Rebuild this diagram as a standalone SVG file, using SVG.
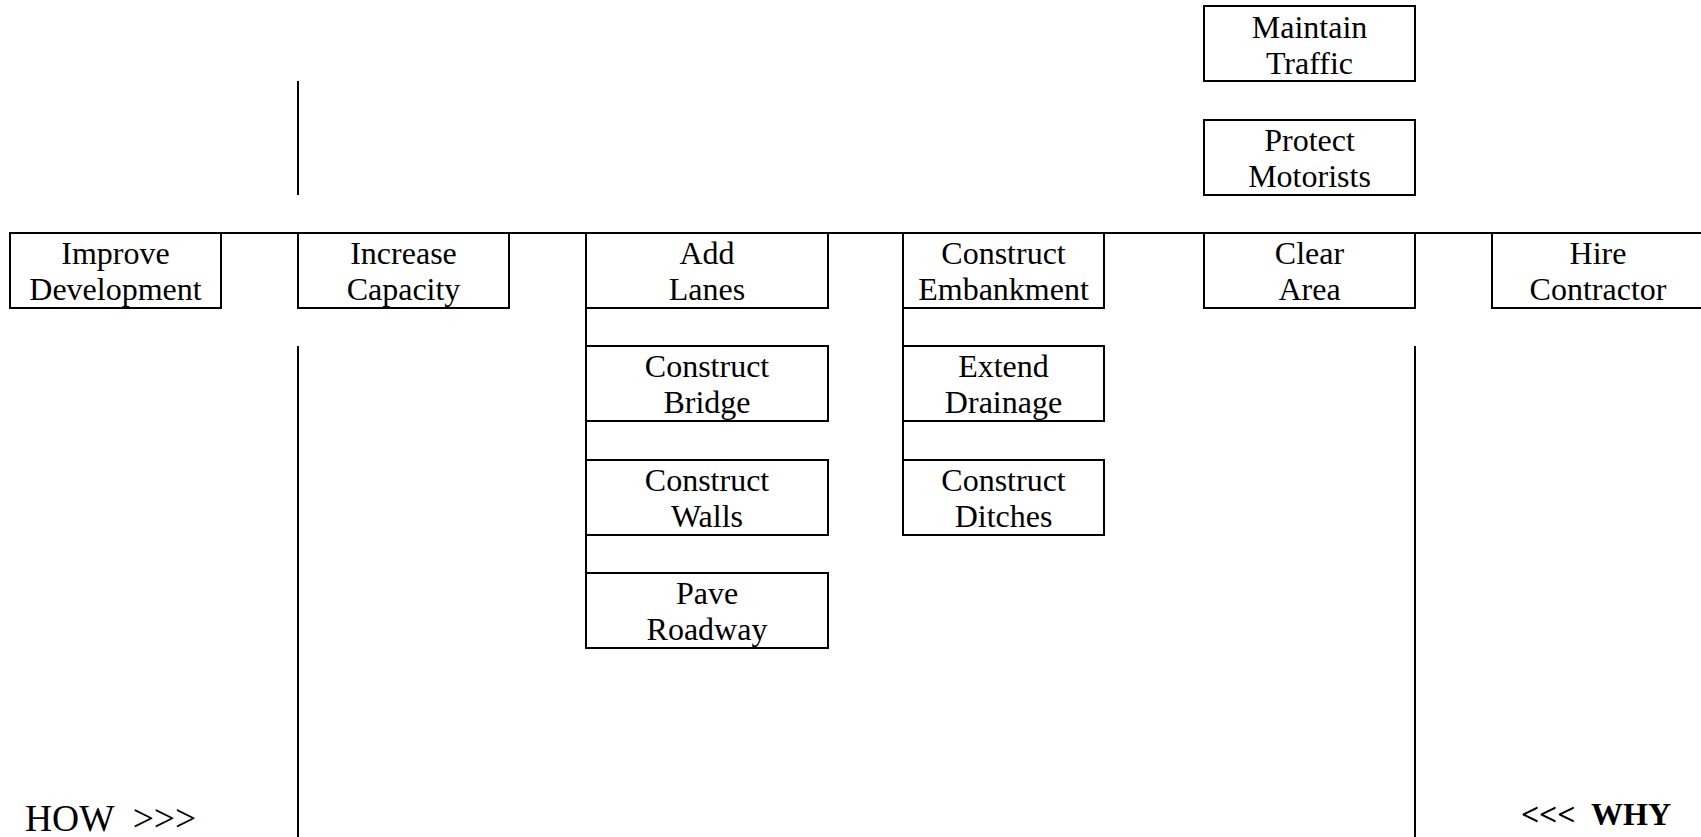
<svg xmlns="http://www.w3.org/2000/svg" width="1701" height="837" viewBox="0 0 1701 837">
<style>
.box{fill:#fff;stroke:#000;stroke-width:2}
.ln{stroke:#000;stroke-width:2;fill:none}
.t{font-family:"Liberation Serif","Times New Roman",serif;font-size:32px;fill:#000;text-anchor:middle}
.lbl{font-family:"Liberation Serif","Times New Roman",serif;fill:#000}
</style>
<rect width="1701" height="837" fill="#fff"/>
<g id="connectors">
<line class="ln" x1="10" y1="233" x2="1701" y2="233"/>
<line class="ln" x1="298" y1="81" x2="298" y2="195"/>
<line class="ln" x1="298" y1="346" x2="298" y2="837"/>
<line class="ln" x1="1415" y1="346" x2="1415" y2="837"/>
<line class="ln" x1="586" y1="308" x2="586" y2="573"/>
<line class="ln" x1="903" y1="308" x2="903" y2="460"/>
</g>
<g id="maintain-traffic"><rect class="box" x="1204" y="6" width="211" height="75"/><text class="t" x="1309.5" y="38">Maintain</text><text class="t" x="1309.5" y="74">Traffic</text></g>
<g id="protect-motorists"><rect class="box" x="1204" y="120" width="211" height="75"/><text class="t" x="1309.5" y="151">Protect</text><text class="t" x="1309.5" y="187">Motorists</text></g>
<g id="improve-development"><rect class="box" x="10" y="233" width="211" height="75"/><text class="t" x="115.5" y="264">Improve</text><text class="t" x="115.5" y="300">Development</text></g>
<g id="increase-capacity"><rect class="box" x="298" y="233" width="211" height="75"/><text class="t" x="403.5" y="264">Increase</text><text class="t" x="403.5" y="300">Capacity</text></g>
<g id="add-lanes"><rect class="box" x="586" y="233" width="242" height="75"/><text class="t" x="707" y="264">Add</text><text class="t" x="707" y="300">Lanes</text></g>
<g id="construct-embankment"><rect class="box" x="903" y="233" width="201" height="75"/><text class="t" x="1003.5" y="264">Construct</text><text class="t" x="1003.5" y="300">Embankment</text></g>
<g id="clear-area"><rect class="box" x="1204" y="233" width="211" height="75"/><text class="t" x="1309.5" y="264">Clear</text><text class="t" x="1309.5" y="300">Area</text></g>
<g id="hire-contractor"><rect class="box" x="1492" y="233" width="212" height="75"/><text class="t" x="1598" y="264">Hire</text><text class="t" x="1598" y="300">Contractor</text></g>
<g id="construct-bridge"><rect class="box" x="586" y="346" width="242" height="75"/><text class="t" x="707" y="377">Construct</text><text class="t" x="707" y="413">Bridge</text></g>
<g id="construct-walls"><rect class="box" x="586" y="460" width="242" height="75"/><text class="t" x="707" y="491">Construct</text><text class="t" x="707" y="527">Walls</text></g>
<g id="pave-roadway"><rect class="box" x="586" y="573" width="242" height="75"/><text class="t" x="707" y="604">Pave</text><text class="t" x="707" y="640">Roadway</text></g>
<g id="extend-drainage"><rect class="box" x="903" y="346" width="201" height="75"/><text class="t" x="1003.5" y="377">Extend</text><text class="t" x="1003.5" y="413">Drainage</text></g>
<g id="construct-ditches"><rect class="box" x="903" y="460" width="201" height="75"/><text class="t" x="1003.5" y="491">Construct</text><text class="t" x="1003.5" y="527">Ditches</text></g>
<text class="lbl" x="25" y="831" font-size="37.5" xml:space="preserve">HOW  &gt;&gt;&gt;</text>
<text class="lbl" x="1671" y="825" font-size="32" font-weight="bold" text-anchor="end" xml:space="preserve">&lt;&lt;&lt;  WHY</text>
</svg>
